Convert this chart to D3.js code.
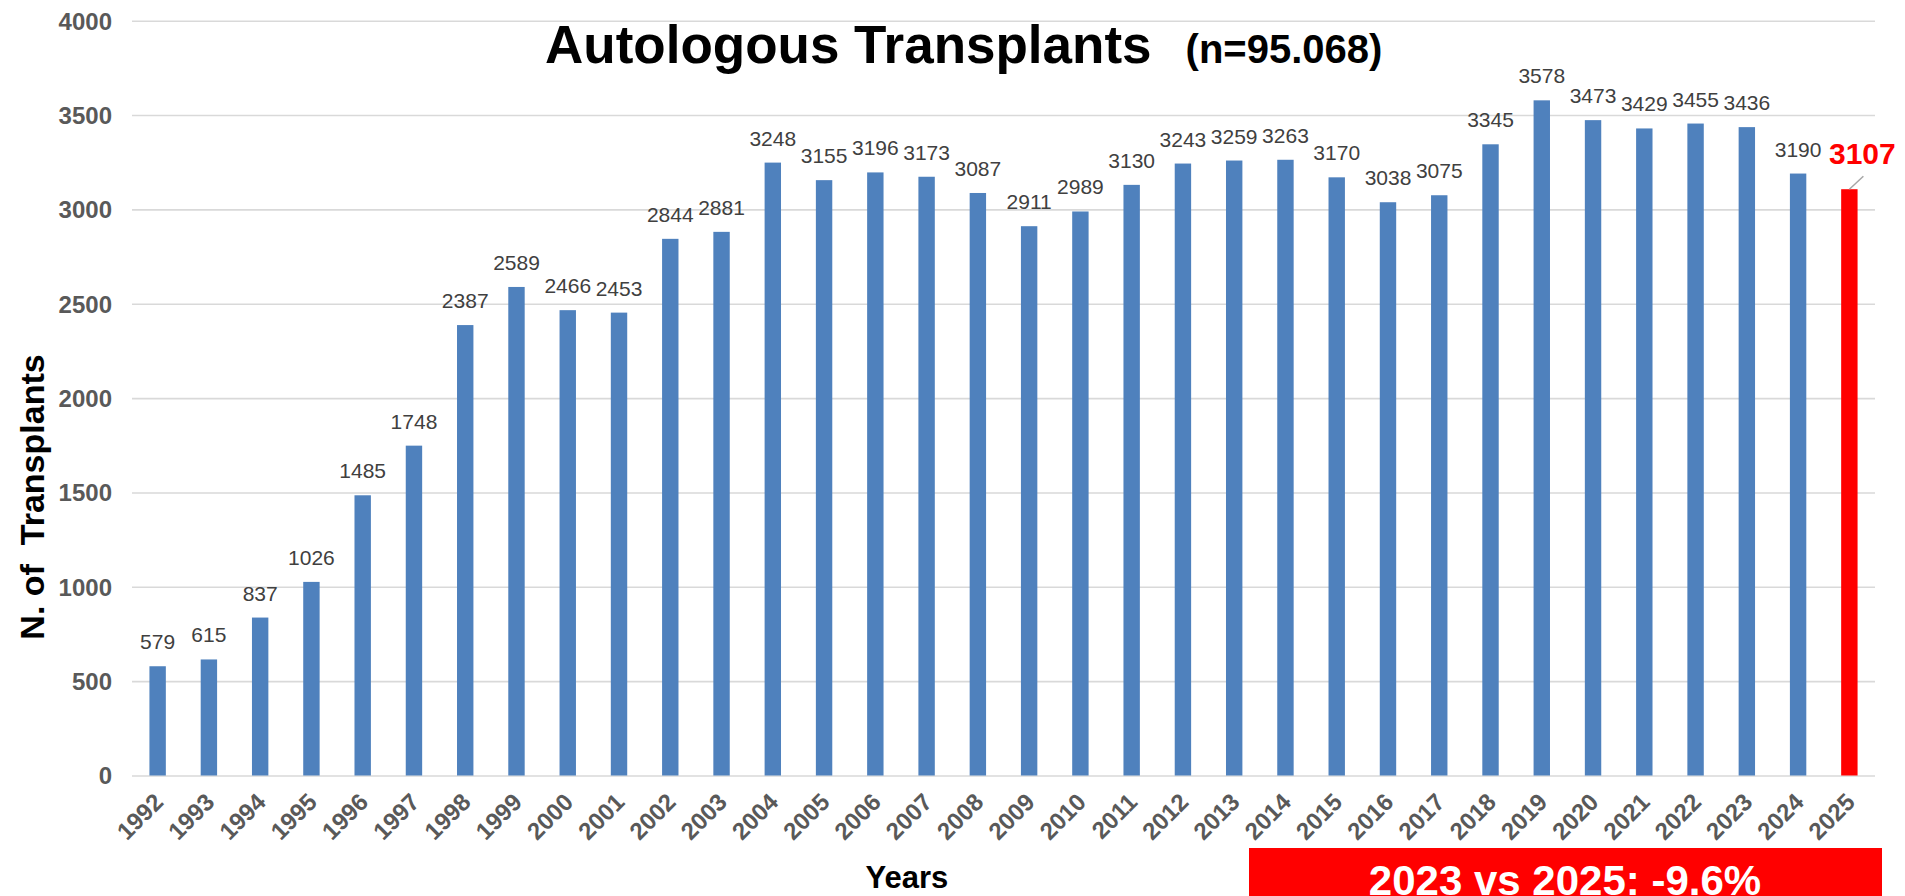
<!DOCTYPE html>
<html>
<head>
<meta charset="utf-8">
<script src="https://cdn.jsdelivr.net/npm/d3@7"></script>
<style>
  body { margin: 0; background: #fff; }
  svg { display: block; font-family: "Liberation Sans", Arial, sans-serif; }
</style>
</head>
<body>
<div id="chart"></div>
<script>
// data
const years = ['1992','1993','1994','1995','1996','1997','1998','1999','2000','2001',
  '2002','2003','2004','2005','2006','2007','2008','2009','2010','2011','2012','2013',
  '2014','2015','2016','2017','2018','2019','2020','2021','2022','2023','2024','2025'];
const transplants = [579,615,837,1026,1485,1748,2387,2589,2466,2453,2844,2881,3248,3155,
  3196,3173,3087,2911,2989,3130,3243,3259,3263,3170,3038,3075,3345,3578,3473,3429,3455,
  3436,3190,3107];
const yTicks = [0,500,1000,1500,2000,2500,3000,3500,4000];
const highlightYear = '2025';
const titleText = 'Autologous Transplants';
const subtitleText = '(n=95.068)';
const noteText = '2023 vs 2025: -9.6%';

const width = 1905, height = 896;
const margin = [20.7, 120.5, 132, 30]; // top, bottom, left, right

const svg = d3.select('#chart').append('svg')
  .attr('width', width).attr('height', height);

const chartW = width - margin[2] - margin[3],
  chartH = height - margin[0] - margin[1];

const scaleX = d3.scaleBand(years, [0, chartW]).paddingInner(0.68).paddingOuter(0.34);
const scaleY = d3.scaleLinear([0, 4000], [chartH, 0]);

const chart = svg.append('g')
  .attr('transform', `translate(${margin[2]},${margin[0]})`);

// y axis + gridlines
const axisY = chart.append('g')
  .call(d3.axisLeft(scaleY).tickValues(yTicks).tickFormat(d3.format('d'))
    .tickSize(-chartW).tickPadding(20));
axisY.select('.domain').remove();
axisY.selectAll('line').attr('stroke', '#d9d9d9').attr('stroke-width', 1.6);
axisY.selectAll('text')
  .attr('fill', '#595959').style('font-size', '24px').style('font-weight', 'bold')
  .attr('dy', '0.35em');

// x axis
const axisX = chart.append('g')
  .attr('transform', `translate(0,${chartH})`)
  .call(d3.axisBottom(scaleX).tickSize(0).tickPadding(0));
axisX.select('.domain').remove();
axisX.selectAll('text')
  .attr('fill', '#595959').style('font-size', '24px').style('font-weight', 'bold')
  .attr('text-anchor', 'end').attr('dy', 0).attr('y', 0)
  .attr('transform', 'translate(7,28) rotate(-45)');

const data = years.map((y, i) => [y, transplants[i]]);

// bars
chart.selectAll('rect.bar')
  .data(data)
  .join('rect')
  .classed('bar', true)
  .attr('x', d => scaleX(d[0]))
  .attr('y', d => scaleY(d[1]))
  .attr('width', scaleX.bandwidth())
  .attr('height', d => chartH - scaleY(d[1]))
  .attr('fill', d => d[0] === highlightYear ? '#ff0000' : '#4f81bd');

// data labels
chart.selectAll('text.lbl')
  .data(data.filter(d => d[0] !== highlightYear))
  .join('text')
  .classed('lbl', true)
  .attr('x', d => scaleX(d[0]) + scaleX.bandwidth() / 2)
  .attr('y', d => scaleY(d[1]) - 17)
  .attr('text-anchor', 'middle')
  .attr('fill', '#404040').style('font-size', '21px')
  .text(d => d[1]);

// highlighted label with leader line
const hl = data.find(d => d[0] === highlightYear);
const hx = scaleX(hl[0]) + scaleX.bandwidth() / 2, hy = scaleY(hl[1]);
chart.append('line')
  .attr('x1', hx).attr('y1', hy).attr('x2', hx + 14).attr('y2', hy - 13)
  .attr('stroke', '#a6a6a6').attr('stroke-width', 1.5);
chart.append('text')
  .attr('x', hx + 13).attr('y', hy - 25)
  .attr('text-anchor', 'middle')
  .attr('fill', '#ff0000').style('font-size', '30px').style('font-weight', 'bold')
  .text(hl[1]);

// title
const title = svg.append('text')
  .attr('x', 545).attr('y', 63)
  .style('font-weight', 'bold');
title.append('tspan').style('font-size', '53px').text(titleText);
title.append('tspan').attr('dx', 34).style('font-size', '40px').text(subtitleText);

// axis titles
svg.append('text')
  .attr('transform', `translate(44,497) rotate(-90)`)
  .attr('text-anchor', 'middle')
  .style('font-size', '34px').style('font-weight', 'bold')
  .style('white-space', 'pre')
  .text('N. of  Transplants');

svg.append('text')
  .attr('x', 907).attr('y', 888)
  .attr('text-anchor', 'middle')
  .style('font-size', '31px').style('font-weight', 'bold')
  .text('Years');

// comparison box (its text runs off the bottom edge, as in the original)
svg.append('rect')
  .attr('x', 1249).attr('y', 848).attr('width', 633).attr('height', 60)
  .attr('fill', '#ff0000');
svg.append('text')
  .attr('x', 1565).attr('y', 895)
  .attr('text-anchor', 'middle')
  .attr('fill', '#fff').style('font-size', '42px').style('font-weight', 'bold')
  .text(noteText);
</script>
</body>
</html>
